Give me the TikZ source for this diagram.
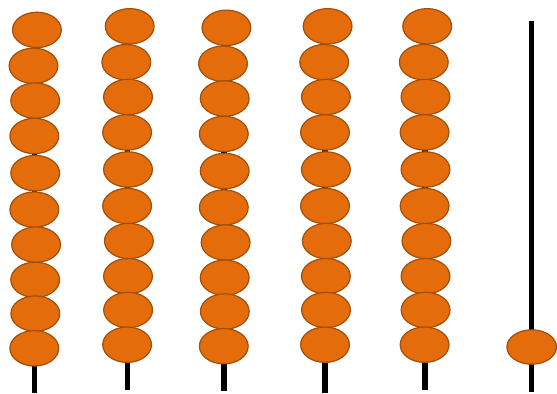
\documentclass[tikz,border=0pt]{standalone}
\usepackage{tikz}
\definecolor{beadfill}{HTML}{E46C0A}
\definecolor{beadedge}{HTML}{9E4F0C}

\begin{document}
\begin{tikzpicture}[x=0.05cm, y=-0.05cm,
  rod/.style ={draw=black, line width=7.8pt},
  bead/.style={draw=beadedge, fill=beadfill, line width=1.7pt},
]
\useasboundingbox (0,0) rectangle (557,393);
% five full rods: rod x / vertical shift of the beads / rod bottom
\foreach \xr/\dy/\yb in {34.5/3.6/393, 127.3/0/390, 224/1.5/391, 325.2/0/393, 424.8/0/390} {
  \draw[rod] (\xr,40) -- (\xr,\yb);
  \foreach \dx/\yc in {2.4/26.3, -1/62.2, 0.7/97, -0.2/132.4, 0.7/169.5,
                       -0.2/206, 1.6/241, 0.7/276.2, 0.8/310, -0.2/344.7} {
    \draw[bead] (\xr+\dx,\yc+\dy) ellipse (24.4 and 17.7);
  }
}
% last rod with a single bead
\draw[rod] (531.7,21) -- (531.7,392);
\draw[bead] (531.7,347) ellipse (24.8 and 17.2);
\end{tikzpicture}
\end{document}
